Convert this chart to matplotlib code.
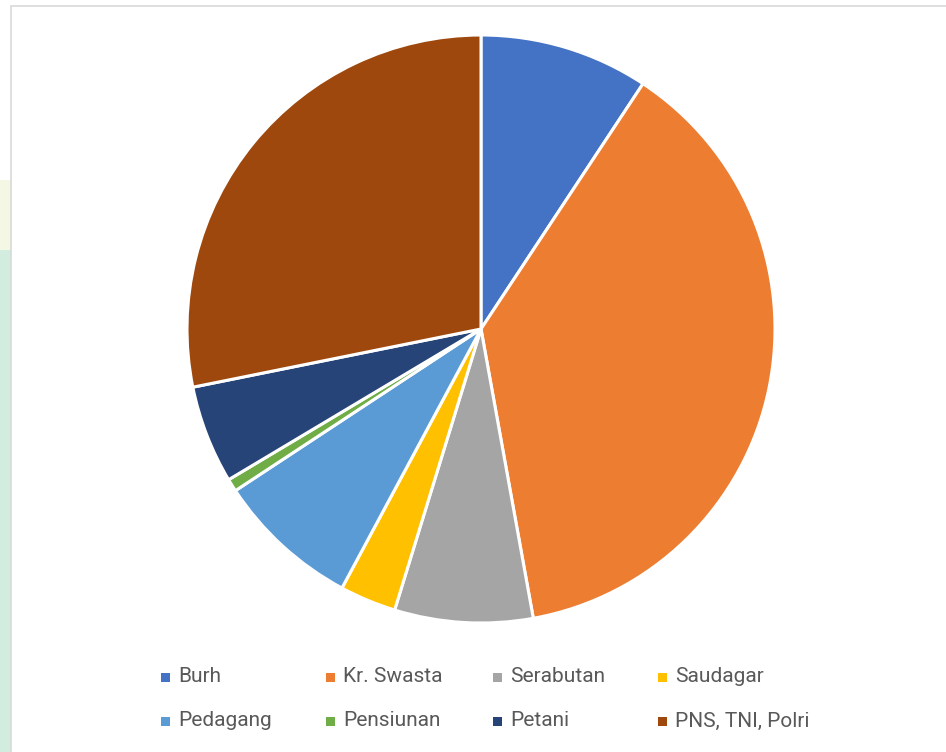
import matplotlib
matplotlib.use("Agg")
import matplotlib.pyplot as plt
from matplotlib.patches import Rectangle

labels = ["Burh", "Kr. Swasta", "Serabutan", "Saudagar",
          "Pedagang", "Pensiunan", "Petani", "PNS, TNI, Polri"]
values = [9.3, 37.9, 7.6, 3.1, 7.9, 0.7, 5.4, 28.2]
colors = ["#4472C4", "#ED7D31", "#A5A5A5", "#FFC000",
          "#5B9BD5", "#70AD47", "#264478", "#9E480E"]

W, H = 946, 752

fig = plt.figure(figsize=(W / 100, H / 100), dpi=100)

# page background peeking out on the left
fig.patches.append(Rectangle((0, 0), 11 / W, (H - 250) / H, transform=fig.transFigure,
                             facecolor="#d2ece0", edgecolor="none", zorder=-2))
fig.patches.append(Rectangle((0, (H - 250) / H), 11 / W, 70 / H, transform=fig.transFigure,
                             facecolor="#f3f7e4", edgecolor="none", zorder=-2))
# chart area border
fig.patches.append(Rectangle((11 / W, -0.01), 1.0, (H - 6) / H + 0.01,
                             transform=fig.transFigure, facecolor="white",
                             edgecolor="#d9d9d9", linewidth=1.2, zorder=-1))

cx, cy, r = 481, 329, 294
ax = fig.add_axes([(cx - r) / W, (H - cy - r) / H, 2 * r / W, 2 * r / H])
ax.set_zorder(2)
ax.pie(values, colors=colors, startangle=90, counterclock=False, radius=1,
       wedgeprops=dict(edgecolor="white", linewidth=2.2))
ax.set_xlim(-1, 1)
ax.set_ylim(-1, 1)
ax.axis("off")

# legend: 4 columns x 2 rows
col_x = [165, 330, 497, 662]
row_y = [677, 721]
for i, (lab, col) in enumerate(zip(labels, colors)):
    x = col_x[i % 4]
    y = row_y[i // 4]
    fig.patches.append(Rectangle(((x - 4.5) / W, (H - y - 4.5) / H), 9 / W, 9 / H,
                                 transform=fig.transFigure, facecolor=col,
                                 edgecolor="none", zorder=1))
    fig.text((x + 13) / W, (H - y) / H, lab, fontsize=15, color="#595959",
             family="Roboto", ha="left", va="center")

fig.savefig("out.png", dpi=100)
